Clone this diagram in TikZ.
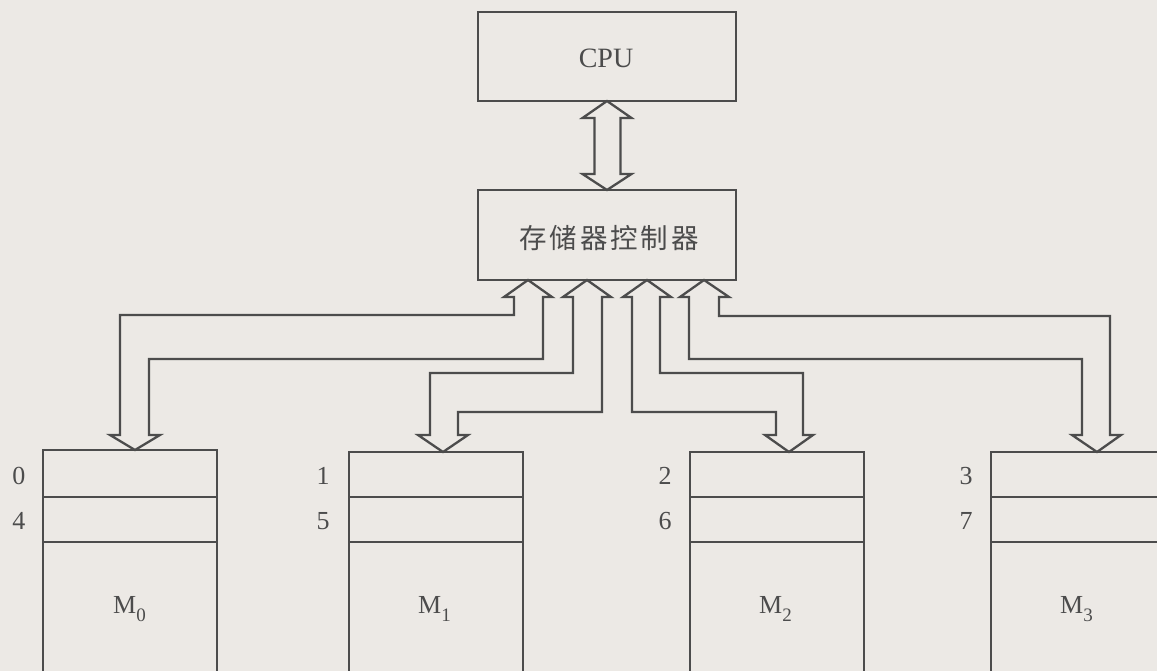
\documentclass[tikz,border=0pt]{standalone}
\usepackage{fontspec}
\setmainfont{Liberation Serif}
\newfontfamily\cjk{Noto Sans CJK SC}
\usetikzlibrary{calc}
\definecolor{bg}{HTML}{ECE9E5}
\definecolor{ink}{HTML}{4C4C4C}
\newcommand{\msub}[1]{M\raisebox{-8pt}{\fontsize{19}{19}\selectfont #1}}
\begin{document}
\begin{tikzpicture}[x=1pt,y=-1pt,
  line/.style={draw=ink,line width=2.3pt,line join=miter},
  box/.style={line,rectangle,inner sep=0pt,outer sep=0pt},
  bus/.style={line,fill=bg},
  txt/.style={text=ink,inner sep=0pt,font=\fontsize{26}{26}\selectfont},
]
\fill[bg] (0,0) rectangle (1157,671);
\useasboundingbox (0,0) rectangle (1157,671);
\begin{scope}
\clip (0,0) rectangle (1157,671);
% top boxes
\node[box,minimum width=258pt,minimum height=89pt,anchor=north west] (cpu) at (478,12) {};
\node[txt,font=\fontsize{28}{28}\selectfont] (cputxt) at (606,58) {CPU};
\node[box,minimum width=258pt,minimum height=90pt,anchor=north west] (ctrl) at (478,190) {};
\node[txt,font=\cjk\fontsize{27.5}{27.5}\selectfont] (ctrltxt) at (609,238) {存\hspace{3pt}储\hspace{3pt}器\hspace{3pt}控\hspace{3pt}制\hspace{3pt}器};
% double arrow CPU <-> controller
\draw[bus] (607,0 |- cpu.south) -- (631.5,118) -- (620.5,118) -- (620.5,174) -- (631.5,174) -- (607,0 |- ctrl.north)
  -- (582.5,174) -- (594.5,174) -- (594.5,118) -- (582.5,118) -- cycle;
% memory modules
\foreach \n/\x/\y/\a/\b/\lx in {0/43/450/0/4/19, 1/349/452/1/5/323, 2/690/452/2/6/665, 3/991/452/3/7/966}{
  \node[box,minimum width=174pt,minimum height=260pt,anchor=north west] (m\n) at (\x,\y) {};
  \draw[line] (\x,497) -- ++(174,0);
  \draw[line] (\x,542) -- ++(174,0);
  \node[txt] (ad\n) at (\lx,476) {\a};
  \node[txt] (bd\n) at (\lx,521) {\b};
}
\node[txt,anchor=base west] (l0) at (113,613) {\msub{0}};
\node[txt,anchor=base west] (l1) at (418,613) {\msub{1}};
\node[txt,anchor=base west] (l2) at (759,613) {\msub{2}};
\node[txt,anchor=base west] (l3) at (1060,613) {\msub{3}};
% bus arrows controller <-> modules
\draw[bus] (528,0 |- ctrl.south) -- (552,297) -- (543,297) -- (543,359) -- (149,359) -- (149,435) -- (160,435)
  -- (135,0 |- m0.north) -- (110,435) -- (120,435) -- (120,315) -- (514,315) -- (514,297) -- (504,297) -- cycle;
\draw[bus] (587,0 |- ctrl.south) -- (611,297) -- (602,297) -- (602,412) -- (458,412) -- (458,435) -- (468,435)
  -- (443,0 |- m1.north) -- (418,435) -- (430,435) -- (430,373) -- (573,373) -- (573,297) -- (563,297) -- cycle;
\draw[bus] (647,0 |- ctrl.south) -- (671,297) -- (660,297) -- (660,373) -- (803,373) -- (803,435) -- (813,435)
  -- (789,0 |- m2.north) -- (765,435) -- (776,435) -- (776,412) -- (632,412) -- (632,297) -- (623,297) -- cycle;
\draw[bus] (704,0 |- ctrl.south) -- (729,297) -- (719,297) -- (719,316) -- (1110,316) -- (1110,435) -- (1121,435)
  -- (1097,0 |- m3.north) -- (1072,435) -- (1082,435) -- (1082,359) -- (689,359) -- (689,297) -- (680,297) -- cycle;
\end{scope}
\end{tikzpicture}
\end{document}
